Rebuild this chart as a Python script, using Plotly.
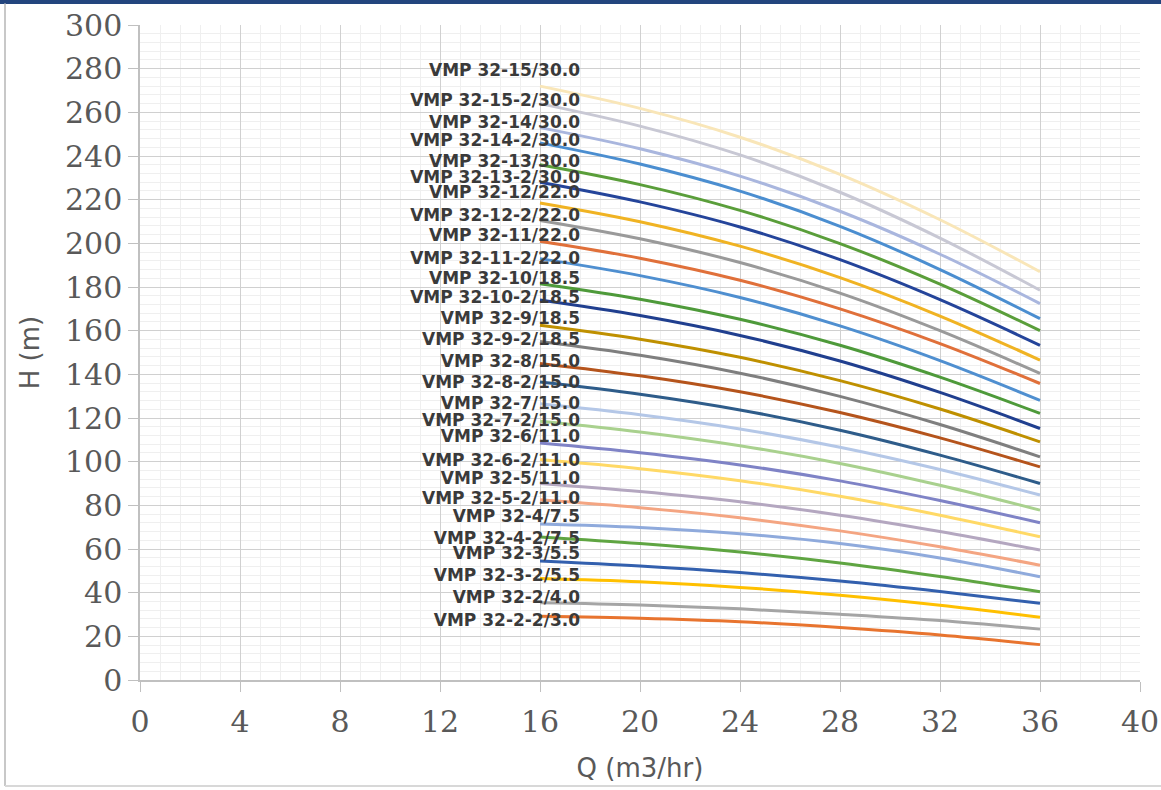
import plotly.graph_objects as go

# Flow points (m3/hr)
flow = [16, 20, 24, 28, 32, 36]

# Model names, top to bottom
models = [
    "VMP 32-15/30.0", "VMP 32-15-2/30.0", "VMP 32-14/30.0", "VMP 32-14-2/30.0",
    "VMP 32-13/30.0", "VMP 32-13-2/30.0", "VMP 32-12/22.0", "VMP 32-12-2/22.0",
    "VMP 32-11/22.0", "VMP 32-11-2/22.0", "VMP 32-10/18.5", "VMP 32-10-2/18.5",
    "VMP 32-9/18.5", "VMP 32-9-2/18.5", "VMP 32-8/15.0", "VMP 32-8-2/15.0",
    "VMP 32-7/15.0", "VMP 32-7-2/15.0", "VMP 32-6/11.0", "VMP 32-6-2/11.0",
    "VMP 32-5/11.0", "VMP 32-5-2/11.0", "VMP 32-4/7.5", "VMP 32-4-2/7.5",
    "VMP 32-3/5.5", "VMP 32-3-2/5.5", "VMP 32-2/4.0", "VMP 32-2-2/3.0",
]

# Head (m) at each flow point, same order as models
head_32_15 = [272, 261.8, 248.6, 231.6, 210.8, 187]
head_32_15_2 = [264, 253.7, 240.5, 223.4, 202.4, 178.5]
head_32_14 = [253, 243.3, 230.8, 214.7, 195.0, 172.4]
head_32_14_2 = [246, 236.3, 223.9, 207.8, 188.0, 165.5]
head_32_13 = [236, 226.9, 215.1, 199.9, 181.3, 160]
head_32_13_2 = [228, 219.0, 207.5, 192.5, 174.2, 153.3]
head_32_12 = [218.5, 209.9, 198.7, 184.3, 166.7, 146.5]
head_32_12_2 = [210.5, 202.1, 191.2, 177.2, 160.0, 140.4]
head_32_11 = [201, 193.2, 183.1, 170.0, 154.1, 135.8]
head_32_11_2 = [193, 185.2, 175.2, 162.2, 146.3, 128.1]
head_32_10 = [181.5, 174.4, 165.2, 153.3, 138.7, 122.1]
head_32_10_2 = [174, 166.9, 157.8, 146.1, 131.7, 115.2]
head_32_9 = [162.5, 156.1, 147.8, 137.1, 124.1, 109.1]
head_32_9_2 = [155, 148.7, 140.5, 129.9, 117.0, 102.2]
head_32_8 = [145, 139.3, 132.0, 122.5, 110.9, 97.6]
head_32_8_2 = [136.5, 130.9, 123.7, 114.4, 103.0, 90]
head_32_7 = [126.5, 121.5, 115.0, 106.6, 96.4, 84.7]
head_32_7_2 = [118.5, 113.6, 107.3, 99.2, 89.2, 77.8]
head_32_6 = [108.5, 104.1, 98.5, 91.2, 82.2, 72]
head_32_6_2 = [101, 96.8, 91.3, 84.2, 75.5, 65.6]
head_32_5 = [90, 86.3, 81.6, 75.5, 68.0, 59.5]
head_32_5_2 = [82.5, 78.9, 74.3, 68.3, 61.0, 52.6]
head_32_4 = [71.5, 69.9, 67.0, 62.5, 55.9, 47.3]
head_32_4_2 = [65.5, 62.5, 58.6, 53.6, 47.4, 40.4]
head_32_3 = [54.5, 52.2, 49.2, 45.3, 40.5, 35.1]
head_32_3_2 = [46.5, 45.0, 42.4, 38.8, 34.2, 28.7]
head_32_2 = [35.4, 34.4, 32.6, 30.1, 27.2, 23.3]
head_32_2_2 = [29.2, 28.3, 26.7, 24.0, 20.6, 16.2]

heads = [
    head_32_15, head_32_15_2, head_32_14, head_32_14_2, head_32_13, head_32_13_2,
    head_32_12, head_32_12_2, head_32_11, head_32_11_2, head_32_10, head_32_10_2,
    head_32_9, head_32_9_2, head_32_8, head_32_8_2, head_32_7, head_32_7_2,
    head_32_6, head_32_6_2, head_32_5, head_32_5_2, head_32_4, head_32_4_2,
    head_32_3, head_32_3_2, head_32_2, head_32_2_2,
]

# Label vertical positions (H units)
label_y = [278.7, 265.0, 254.9, 246.7, 237.1, 229.7, 222.9, 212.4, 203.2, 192.7,
           183.5, 174.8, 164.8, 155.2, 145.5, 135.9, 125.9, 118.1, 110.8, 99.8,
           91.5, 82.4, 74.1, 64.1, 57.2, 47.1, 37.1, 26.5]
label_x = 17.6

colors = [
    "#F9E6B8", "#C8C8D4", "#A9B6DE", "#4B8ED0", "#5A9E3A", "#24449A",
    "#F0B323", "#9A9A9A", "#E0703A", "#4F8FD0", "#4E9A3A", "#203F8F",
    "#BF9000", "#7F7F7F", "#B5541C", "#2E5C8A", "#B4C7E7", "#A9D18E",
    "#7F83C6", "#FFD966", "#B4A7C0", "#F4A582", "#8FAADC", "#5FA542",
    "#3360AE", "#FFC000", "#A5A5A5", "#E8742F",
]

x_ticks = [0, 4, 8, 12, 16, 20, 24, 28, 32, 36, 40]
y_ticks = list(range(0, 301, 20))

fig = go.Figure()
for name, h, c in zip(models, heads, colors):
    fig.add_trace(go.Scatter(
        x=flow, y=h, mode="lines", name=name,
        line=dict(color=c, width=3, shape="spline", smoothing=1.0),
        hoverinfo="skip", showlegend=False,
    ))

fig.add_trace(go.Scatter(
    x=[label_x] * len(models), y=label_y, mode="text", text=models,
    textposition="middle left",
    textfont=dict(family="DejaVu Sans", size=17, color="#3a3a3a", weight="bold"),
    hoverinfo="skip", showlegend=False,
))

tick_font = dict(family="DejaVu Serif", size=30, color="#595959")
title_font = dict(family="DejaVu Sans", size=26, color="#595959")

fig.update_xaxes(
    range=[0, 40], tickvals=x_ticks, ticktext=[str(v) for v in x_ticks],
    showgrid=True, gridcolor="#d0d0d0", gridwidth=1,
    minor=dict(dtick=0.8, tick0=0, showgrid=True, gridcolor="#efefef", gridwidth=1),
    showline=True, linecolor="#c0c0c0", linewidth=1.5,
    ticks="outside", ticklen=10, tickcolor="#c0c0c0",
    tickfont=tick_font, zeroline=False, automargin=False,
    ticklabelstandoff=4,
    title=dict(text="Q (m3/hr)", font=title_font, standoff=21),
)
fig.update_yaxes(
    range=[0, 300], tickvals=y_ticks, ticktext=[str(v) for v in y_ticks],
    showgrid=True, gridcolor="#d0d0d0", gridwidth=1,
    minor=dict(dtick=4, tick0=0, showgrid=True, gridcolor="#efefef", gridwidth=1),
    showline=True, linecolor="#c0c0c0", linewidth=1.5,
    ticks="outside", ticklen=10, tickcolor="#c0c0c0",
    tickfont=tick_font, zeroline=False, automargin=False,
    title=dict(text="H (m)", font=title_font, standoff=18),
)

# frame lines around the picture
fig.add_shape(type="line", xref="paper", yref="paper", x0=-0.14, x1=1.021,
              y0=1.0351, y1=1.0351, line=dict(color="#23457e", width=4), layer="above")
fig.add_shape(type="line", xref="paper", yref="paper", x0=-0.135, x1=-0.135,
              y0=1.033, y1=-0.1617, line=dict(color="#c8c8c8", width=2))
fig.add_shape(type="line", xref="paper", yref="paper", x0=-0.135, x1=1.021,
              y0=-0.1617, y1=-0.1617, line=dict(color="#d8d8d8", width=2))

fig.update_layout(
    width=1161, height=790,
    margin=dict(l=140, r=21, t=24.5, b=110),
    paper_bgcolor="white", plot_bgcolor="white",
    showlegend=False,
)

fig.write_html("out.html", config={"displayModeBar": False},
               post_script="document.body.style.margin='0px';")
